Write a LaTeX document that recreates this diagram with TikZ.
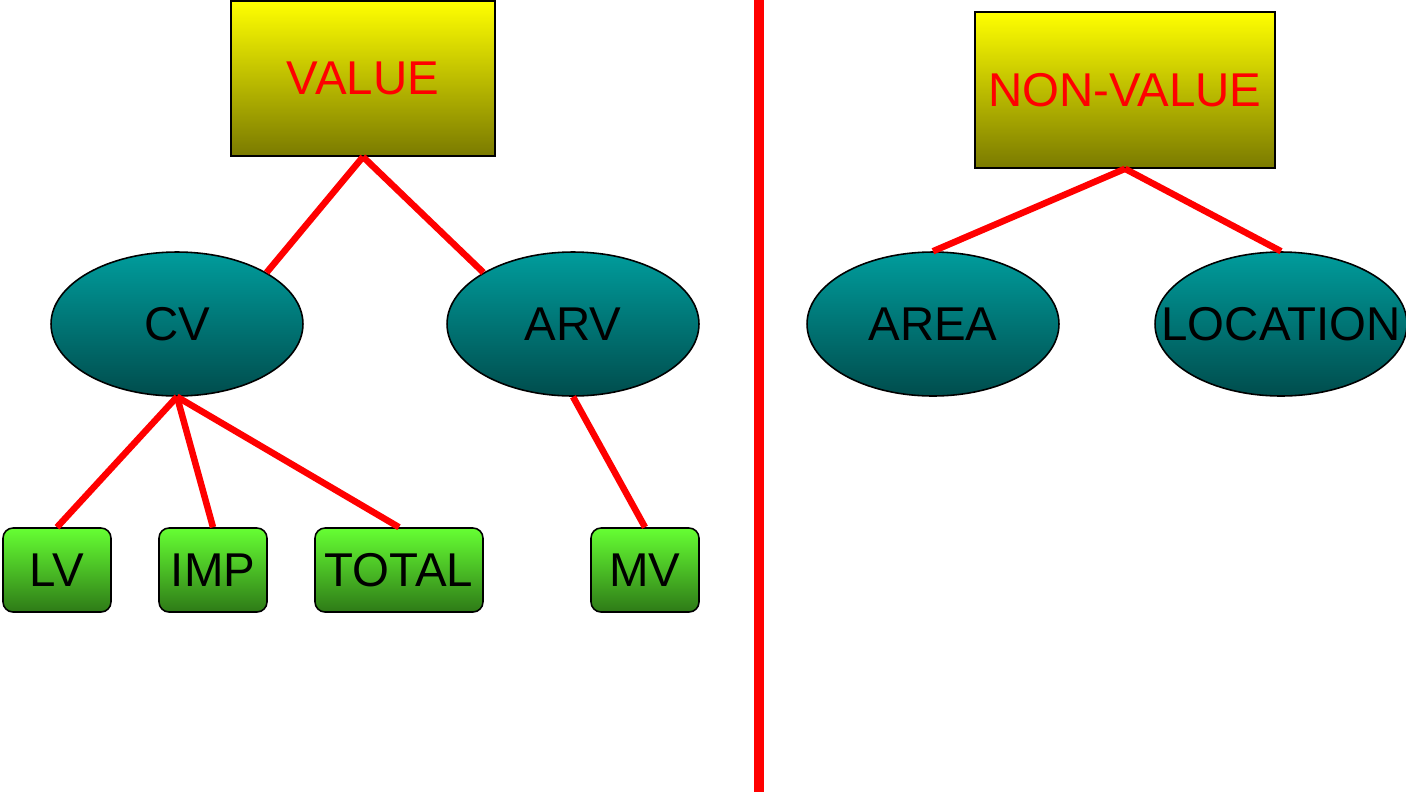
\documentclass[tikz,border=0pt]{standalone}
\usepackage{fontspec}
\setmainfont{Liberation Sans}
\usetikzlibrary{shapes.geometric}
\definecolor{boxtop}{HTML}{FFFF00}
\definecolor{boxbot}{HTML}{7A7A00}
\definecolor{elltop}{HTML}{009C9C}
\definecolor{ellbot}{HTML}{004D4D}
\definecolor{grntop}{HTML}{66FF33}
\definecolor{grnbot}{HTML}{2E7A17}
\definecolor{redline}{HTML}{FF0000}
\tikzset{
  lbl/.style={font=\fontsize{27}{31}\selectfont, inner sep=0pt},
  yelbox/.style={lbl, rectangle, draw=black, line width=0.9pt, top color=boxtop, bottom color=boxbot, text=red},
  tealell/.style={lbl, ellipse, draw=black, line width=0.9pt, top color=elltop, bottom color=ellbot, text=black,
    minimum width=5.04cm, minimum height=2.88cm},
  grnbox/.style={lbl, rectangle, rounded corners=0.2cm, draw=black, line width=0.9pt, top color=grntop, bottom color=grnbot, text=black,
    minimum height=1.68cm},
  conn/.style={draw=redline, line width=3.7pt},
  divider/.style={draw=redline, line width=5.7pt}
}
\begin{document}
\begin{tikzpicture}[x=0.02cm, y=-0.02cm]
\useasboundingbox (0,0) rectangle (1406,792);
\fill[white] (0,0) rectangle (1406,792);
% top boxes
\node[yelbox, minimum width=5.28cm, minimum height=3.1cm] (value) at (363,78.5) {VALUE};
\node[yelbox, minimum width=6.0cm, minimum height=3.12cm] (nonvalue) at (1125,90) {NON-VALUE};
% ellipses
\node[tealell] (cv) at (177,324) {\makebox[0pt]{CV}};
\node[tealell] (arv) at (573,324) {\makebox[0pt]{ARV}};
\node[tealell] (area) at (933,324) {\makebox[0pt]{AREA}};
\node[tealell] (location) at (1281,324) {\makebox[0pt]{LOCATION}};
% green boxes
\node[grnbox, minimum width=2.16cm] (lv) at (57,570) {LV};
\node[grnbox, minimum width=2.16cm] (imp) at (213,570) {IMP};
\node[grnbox, minimum width=3.36cm] (total) at (399,570) {TOTAL};
\node[grnbox, minimum width=2.16cm] (mv) at (645,570) {MV};
% divider
\coordinate (dtop) at (759,0);
\coordinate (dbot) at (759,792);
\draw[divider] (dtop) -- (dbot);
% connectors
\draw[conn] (value.south) -- (cv.north east);
\draw[conn] (value.south) -- (arv.north west);
\draw[conn] (cv.south) -- (lv.north);
\draw[conn] (cv.south) -- (imp.north);
\draw[conn] (cv.south) -- (total.north);
\draw[conn] (arv.south) -- (mv.north);
\draw[conn] (nonvalue.south) -- (area.north);
\draw[conn] (nonvalue.south) -- (location.north);
\end{tikzpicture}
\end{document}
